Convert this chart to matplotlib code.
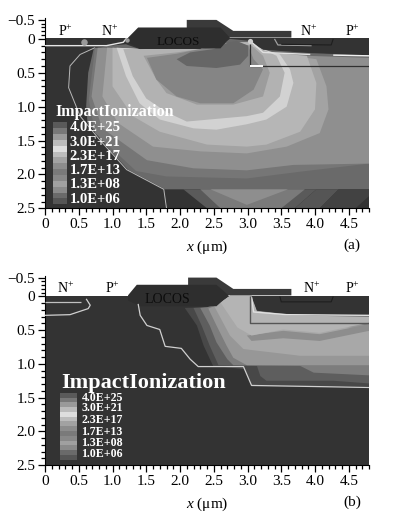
import matplotlib
matplotlib.use('Agg')
import matplotlib.pyplot as plt
import numpy as np

plt.rcParams['font.family'] = ['Liberation Serif', 'DejaVu Serif']
plt.rcParams['mathtext.fontset'] = 'custom'
plt.rcParams['mathtext.rm'] = 'Liberation Serif'
plt.rcParams['mathtext.it'] = 'Liberation Serif:italic'
plt.rcParams['mathtext.default'] = 'regular'

BG = '#333333'
SQUEEZE = 0.56   # the part of the y axis above 0 is drawn compressed in the original

X_TICKS = [0, 0.5, 1.0, 1.5, 2.0, 2.5, 3.0, 3.5, 4.0, 4.5]
X_LABELS = ['0', '0.5', '1.0', '1.5', '2.0', '2.5', '3.0', '3.5', '4.0', '4.5']
Y_TICKS = [-0.5, 0, 0.5, 1.0, 1.5, 2.0, 2.5]
Y_LABELS = ['\u22120.5', '0', '0.5', '1.0', '1.5', '2.0', '2.5']

LEGEND_VALUES = ['4.0E+25', '3.0E+21', '2.3E+17', '1.7E+13', '1.3E+08', '1.0E+06']
LEGEND_GRAYS = ['#5a5a5a', '#787878', '#9a9a9a', '#bcbcbc', '#dedede', '#bcbcbc', '#a2a2a2',
                '#8c8c8c', '#7a7a7a', '#888888', '#a0a0a0', '#8a8a8a', '#6a6a6a', '#555555']

# panel (a), contour bands from outside to inside, (x, depth) in um
A_ENVELOPE = [(0.72, 0.15), (0.64, 0.5), (0.61, 0.99), (0.63, 1.24), (0.96, 1.64), (1.23, 1.93), (1.78, 2.22),
              (4.8, 2.22), (4.8, 0.24), (3.93, 0.2), (3.23, 0.15), (3.04, 0.03), (2.74, 0.0), (2.5, 0.15), (1.4, 0.15),
              (1.2, 0.08), (0.95, 0.1)]
A_BAND1 = [(0.74, 0.13), (0.65, 0.9), (0.74, 1.39), (1.35, 1.95), (1.8, 2.03), (2.99, 2.06), (3.78, 1.96), (4.8, 1.84),
           (4.8, 0.35), (3.78, 0.28), (3.28, 0.2), (3.06, 0.05), (2.79, 0.05), (2.3, 0.15), (1.41, 0.15)]
A_BAND2 = [(0.78, 0.13), (0.69, 0.85), (0.85, 1.32), (1.51, 1.79), (2.2, 1.91), (2.99, 1.94), (3.68, 1.86), (4.8, 1.84),
           (4.8, 0.5), (4.8, 0.28), (3.88, 0.25), (3.28, 0.2), (3.06, 0.05), (2.79, 0.05), (2.3, 0.15), (1.41, 0.15)]
A_BAND3 = [(0.92, 0.13), (0.85, 0.85), (1.08, 1.24), (1.6, 1.59), (2.3, 1.66), (2.99, 1.69), (3.58, 1.59), (4.07, 1.39),
           (4.2, 1.04), (4.17, 0.7), (4.02, 0.3), (3.28, 0.2), (3.06, 0.05), (2.79, 0.05), (2.3, 0.15), (1.41, 0.15)]
A_BAND4 = [(1.0, 0.13), (1.0, 0.7), (1.3, 1.14), (1.7, 1.37), (2.4, 1.56), (2.99, 1.59), (3.28, 1.56), (3.78, 1.37),
           (4.0, 1.04), (4.02, 0.65), (3.88, 0.25), (3.28, 0.2), (3.06, 0.05), (2.79, 0.05), (2.3, 0.15), (1.41, 0.15)]
A_RING = [(1.06, 0.13), (1.2, 0.55), (1.4, 0.95), (1.7, 1.19), (2.2, 1.32), (2.54, 1.34), (2.99, 1.26), (3.28, 1.19),
          (3.58, 1.0), (3.68, 0.65), (3.63, 0.45), (3.48, 0.23), (3.06, 0.1), (2.79, 0.05), (2.3, 0.15), (1.41, 0.15)]
A_BAND5 = [(1.16, 0.15), (1.3, 0.55), (1.5, 0.88), (1.8, 1.08), (2.1, 1.22), (2.99, 1.14), (3.23, 1.09), (3.48, 0.85),
           (3.55, 0.5), (3.43, 0.25), (3.28, 0.18), (3.06, 0.1), (2.79, 0.05), (2.3, 0.15), (1.41, 0.15)]
A_BAND6 = [(1.46, 0.25), (1.65, 0.6), (1.8, 0.8), (2.25, 0.97), (2.79, 0.97), (3.23, 0.85), (3.33, 0.5), (3.23, 0.25),
           (3.06, 0.1), (2.79, 0.05), (2.3, 0.15), (1.95, 0.2)]
A_BAND7 = [(1.51, 0.28), (1.65, 0.6), (1.95, 0.85), (2.3, 0.95), (2.79, 0.95), (3.09, 0.75), (3.23, 0.45), (3.09, 0.3),
           (3.01, 0.1), (2.79, 0.05), (2.3, 0.15), (1.95, 0.22)]
A_CORE = [(1.95, 0.3), (2.1, 0.4), (2.54, 0.43), (2.89, 0.38), (3.01, 0.25), (3.01, 0.1), (2.84, 0.03), (2.72, 0.05),
          (2.5, 0.15), (2.15, 0.2)]
A_BANDS = [A_ENVELOPE, A_BAND1, A_BAND2, A_BAND3, A_BAND4, A_RING, A_BAND5, A_BAND6, A_BAND7, A_CORE]
A_GRAYS = ['#6a6a6a', '#767676', '#8f8f8f', '#a3a3a3', '#b6b6b6', '#d2d2d2', '#b2b2b2', '#9c9c9c', '#858585', '#666666']
# below the flat cut at depth 2.22
A_LOWER = [(2.05, 2.22), (2.4, 2.5), (3.7, 2.5), (4.02, 2.22)]
A_LOWER_MID = [(2.3, 2.22), (2.6, 2.5), (3.5, 2.5), (3.85, 2.22)]
A_LOWER_V = [(2.45, 2.22), (2.99, 2.45), (3.6, 2.22)]
A_LOWER_R = [(3.7, 2.5), (4.02, 2.22), (4.35, 2.22), (4.07, 2.5)]
A_LOWER_R2 = [(4.07, 2.5), (4.35, 2.22), (4.8, 2.22), (4.8, 2.32), (4.6, 2.5)]
A_GATE = [(2.1, -0.5), (2.54, -0.5), (2.79, -0.21), (3.65, -0.21), (3.65, -0.035), (2.7, -0.035), (2.5, -0.28), (2.1, -0.28)]
A_LOCOS = [(1.23, -0.03), (1.38, -0.3), (2.6, -0.3), (2.74, -0.03), (2.6, 0.14), (1.41, 0.15), (1.23, 0.05)]
A_DRAIN = [(3.06, 0.0), (4.8, 0.0), (4.8, 0.24), (3.93, 0.21), (3.23, 0.16), (3.06, 0.04)]
A_CONTOUR = [(0.74, 0.13), (0.52, 0.23), (0.37, 0.4), (0.35, 0.72), (0.52, 1.14), (0.81, 1.49), (1.21, 1.93), (1.76, 2.22),
             (1.8, 2.5)]
A_JUNCTION = [(0, 0.1), (0.67, 0.1), (0.91, 0.1), (1.16, 0.05), (1.21, -0.02)]
A_DRAIN_LINE = [(3.04, 0.03), (3.23, 0.2), (3.93, 0.23)]
A_RIGHT_LINE = [(4.27, 0.24), (4.8, 0.25)]
A_WELL_V = [(3.03, 0.08), (3.03, 0.4), (4.8, 0.4)]
A_WELL_W = [(3.04, 0.4), (3.23, 0.4)]
A_CONTACT = [(3.4, 0.0), (3.45, 0.09), (3.95, 0.1)]
A_CONTACT_D = [(3.5, 0.08), (4.24, 0.09), (4.27, 0.0)]

# panel (b)
B_ENVELOPE = [(2.07, 0.17), (2.25, 0.43), (2.35, 0.73), (2.49, 1.03), (2.96, 1.08), (3.06, 1.33), (4.8, 1.33), (4.8, 0.28),
              (4.27, 0.27), (3.58, 0.26), (3.14, 0.21), (3.06, -0.015), (2.74, -0.015), (2.59, 0.11), (2.4, 0.16)]
B_BAND1 = [(2.2, 0.17), (2.32, 0.43), (2.44, 0.73), (2.57, 1.02), (3.14, 1.03), (3.19, 1.18), (3.28, 1.25), (4.27, 1.25),
           (4.8, 1.29), (4.8, 0.28), (3.58, 0.26), (3.14, 0.21), (3.06, -0.015), (2.74, -0.015), (2.59, 0.11), (2.4, 0.16)]
B_BAND2 = [(2.3, 0.17), (2.44, 0.43), (2.54, 0.68), (2.7, 0.93), (2.79, 1.02), (3.78, 1.03), (3.98, 1.13), (4.8, 1.17),
           (4.8, 0.38), (4.27, 0.31), (3.58, 0.26), (3.14, 0.21), (3.06, -0.015), (2.74, -0.015), (2.59, 0.11), (2.4, 0.16)]
B_BAND3 = [(2.42, 0.18), (2.54, 0.43), (2.69, 0.73), (2.79, 0.91), (2.99, 1.02), (4.8, 1.02), (4.8, 0.43), (3.58, 0.28),
           (3.14, 0.21), (3.06, -0.015), (2.74, -0.015), (2.59, 0.11)]
B_BAND4 = [(2.5, 0.13), (2.74, 0.58), (2.94, 0.78), (3.78, 0.88), (4.8, 0.88), (4.8, 0.51), (3.58, 0.3), (3.14, 0.23),
           (3.06, -0.015), (2.74, -0.015), (2.59, 0.09)]
B_BAND5 = [(2.99, 0.58), (3.53, 0.51), (4.07, 0.56), (4.8, 0.41), (4.8, 0.51), (4.07, 0.66), (3.53, 0.62), (3.06, 0.66)]
B_BAND6 = [(2.6, 0.09), (2.85, 0.46), (3.06, 0.58), (3.53, 0.49), (4.07, 0.54), (4.8, 0.39), (4.8, 0.3), (3.58, 0.28),
           (3.14, 0.23), (3.06, -0.015), (2.74, -0.015)]
B_BANDS = [B_ENVELOPE, B_BAND1, B_BAND2, B_BAND3, B_BAND4, B_BAND5, B_BAND6]
B_GRAYS = ['#484848', '#5e5e5e', '#7d7d7d', '#979797', '#a8a8a8', '#8d8d8d', '#b4b4b4']
B_GATE = [(2.12, -0.5), (2.54, -0.5), (2.79, -0.2), (3.65, -0.2), (3.65, -0.03), (2.68, -0.03), (2.5, -0.28), (2.12, -0.28)]
B_LOCOS = [(1.23, -0.03), (1.36, -0.31), (2.54, -0.31), (2.72, -0.03), (2.54, 0.145), (1.41, 0.145), (1.23, 0.06)]
B_DRAIN = [(3.06, 0.0), (4.8, 0.0), (4.8, 0.28), (3.58, 0.26), (3.14, 0.21)]
B_CONTOUR = [(1.38, 0.11), (1.41, 0.28), (1.51, 0.43), (1.7, 0.49), (1.78, 0.74), (2.02, 0.77), (2.15, 0.93), (2.27, 1.04),
             (2.94, 1.04), (3.06, 1.32), (4.8, 1.35)]
B_JUNCTION1 = [(0, 0.085), (0.54, 0.085)]
B_JUNCTION2 = [(0, 0.28), (0.37, 0.27), (0.64, 0.18), (0.67, 0.13), (0.61, 0.035)]
B_DRAIN_LINE = [(3.06, 0.01), (3.09, 0.23), (3.58, 0.27), (4.8, 0.28)]
B_WELL_V = [(3.03, 0.0), (3.03, 0.39), (4.8, 0.39)]
B_CONTACT = [(3.48, 0.0), (3.5, 0.08), (4.24, 0.08), (4.27, 0.0)]


def forward(y):
    y = np.asarray(y, dtype=float)
    return np.where(y < 0, y * SQUEEZE, y)


def inverse(y):
    y = np.asarray(y, dtype=float)
    return np.where(y < 0, y / SQUEEZE, y)


def fill(ax, pts, color, z=2):
    xs, ys = zip(*pts)
    ax.fill(xs, ys, color=color, lw=0, zorder=z)


def line(ax, pts, color, lw=0.9, z=5):
    xs, ys = zip(*pts)
    ax.plot(xs, ys, color=color, lw=lw, zorder=z, solid_capstyle='butt')


def setup_axes(ax):
    ax.set_yscale('function', functions=(forward, inverse))
    ax.set_xlim(0, 4.8)
    ax.set_ylim(2.5, -0.55)
    ax.set_xticks(X_TICKS)
    ax.set_xticklabels(X_LABELS, fontsize=11)
    ax.set_yticks(Y_TICKS)
    ax.set_yticklabels(Y_LABELS, fontsize=11)
    ax.set_xticks(np.arange(0, 4.81, 0.1), minor=True)
    ax.set_yticks(np.arange(-0.5, 2.51, 0.1), minor=True)
    ax.tick_params(which='major', length=5, width=0.9, pad=2)
    ax.tick_params(which='minor', length=3, width=0.9)
    ax.spines['top'].set_visible(False)
    ax.spines['right'].set_visible(False)
    ax.patch.set_alpha(0)
    ax.set_xlabel('$\\mathit{x}$ (\u03bcm)', fontsize=11, labelpad=5.5)
    ax.fill([0, 4.8, 4.8, 0], [-0.02, -0.02, 2.5, 2.5], color=BG, lw=0, zorder=1)


def legend(ax, left, right, top, bottom, label_x, label_ys, size, title, title_x, title_y, title_size):
    step = (bottom - top) / len(LEGEND_GRAYS)
    for k, c in enumerate(LEGEND_GRAYS):
        ax.fill([left, right, right, left], [top + k * step, top + k * step, top + (k + 1) * step, top + (k + 1) * step],
                color=c, lw=0, zorder=8)
    for val, y in zip(LEGEND_VALUES, label_ys):
        ax.text(label_x, y, val, color='white', fontsize=size, fontweight='bold', va='center', zorder=9)
    ax.text(title_x, title_y, title, color='white', fontsize=title_size, fontweight='bold', va='center', zorder=9)


fig = plt.figure(figsize=(3.95, 5.21), dpi=100)
W, H = 395.0, 521.0
ax1 = fig.add_axes([45 / W, 1 - 208.3 / H, 324 / W, 190.3 / H])
ax2 = fig.add_axes([45 / W, 1 - 465 / H, 324 / W, 189.3 / H])

# panel (a)
setup_axes(ax1)
for band, c in zip(A_BANDS, A_GRAYS):
    fill(ax1, band, c)
fill(ax1, A_LOWER, '#5a5a5a')
fill(ax1, A_LOWER_MID, '#7a7a7a')
fill(ax1, A_LOWER_V, '#8e8e8e')
fill(ax1, A_LOWER_R, '#555555')
fill(ax1, A_LOWER_R2, '#424242')
fill(ax1, A_DRAIN, BG, 3)
fill(ax1, A_LOCOS, '#2e2e2e', 4)
fill(ax1, A_GATE, '#3a3a3a', 3)
line(ax1, A_CONTOUR, '#b8b8b8', 0.7)
line(ax1, A_JUNCTION, '#e6e6e6', 1.0)
line(ax1, A_DRAIN_LINE, '#e0e0e0', 1.0)
line(ax1, A_RIGHT_LINE, '#f0f0f0', 1.0)
line(ax1, A_WELL_V, '#303030', 0.9)
line(ax1, A_WELL_W, 'white', 1.4)
line(ax1, A_CONTACT, '#a0a0a0', 0.9)
line(ax1, A_CONTACT_D, '#1e1e1e', 0.8)
ax1.scatter([0.58], [0.04], s=22, color='#9a9a9a', lw=0, zorder=6)
ax1.scatter([3.03], [0.03], s=14, color='#d0d0d0', lw=0, zorder=6)
ax1.scatter([1.22], [0.02], s=10, color='#9a9a9a', lw=0, zorder=6)
ax1.text(1.98, 0.05, 'LOCOS', fontsize=9.5, color='#0c0c0c', ha='center', va='center', zorder=7)
for s, x in zip(['P$^{+}$', 'N$^{+}$', 'N$^{+}$', 'P$^{+}$'], [0.3, 0.95, 3.9, 4.55]):
    ax1.text(x, -0.2, s, fontsize=10, ha='center', va='center')
legend(ax1, 0.12, 0.32, 1.23, 2.44, 0.36, [1.31, 1.53, 1.73, 1.94, 2.15, 2.37], 10.5,
       'ImpactIonization', 0.15, 1.08, 11.5)
ax1.text(4.55, 3.05, '(a)', fontsize=11, ha='center', va='center', clip_on=False)

# panel (b)
setup_axes(ax2)
for band, c in zip(B_BANDS, B_GRAYS):
    fill(ax2, band, c)
fill(ax2, B_DRAIN, BG, 3)
fill(ax2, B_LOCOS, '#2e2e2e', 4)
fill(ax2, B_GATE, '#3a3a3a', 3)
line(ax2, B_CONTOUR, '#d0d0d0', 0.9)
line(ax2, B_JUNCTION1, '#c0c0c0', 0.9)
line(ax2, B_JUNCTION2, '#d0d0d0', 0.9)
line(ax2, B_DRAIN_LINE, '#e0e0e0', 1.0)
line(ax2, B_WELL_V, '#555555', 1.0)
line(ax2, B_CONTACT, '#1e1e1e', 0.8)
ax2.text(1.82, 0.04, 'LOCOS', fontsize=10, color='#0c0c0c', ha='center', va='center', zorder=7)
for s, x in zip(['N$^{+}$', 'P$^{+}$', 'N$^{+}$', 'P$^{+}$'], [0.3, 1.0, 3.95, 4.55]):
    ax2.text(x, -0.21, s, fontsize=10, ha='center', va='center')
legend(ax2, 0.22, 0.47, 1.43, 2.42, 0.54, [1.5, 1.66, 1.83, 2.01, 2.18, 2.34], 8.6,
       'ImpactIonization', 0.24, 1.28, 16)
ax2.text(4.55, 3.05, '(b)', fontsize=11, ha='center', va='center', clip_on=False)

fig.savefig('out.png', dpi=100)
